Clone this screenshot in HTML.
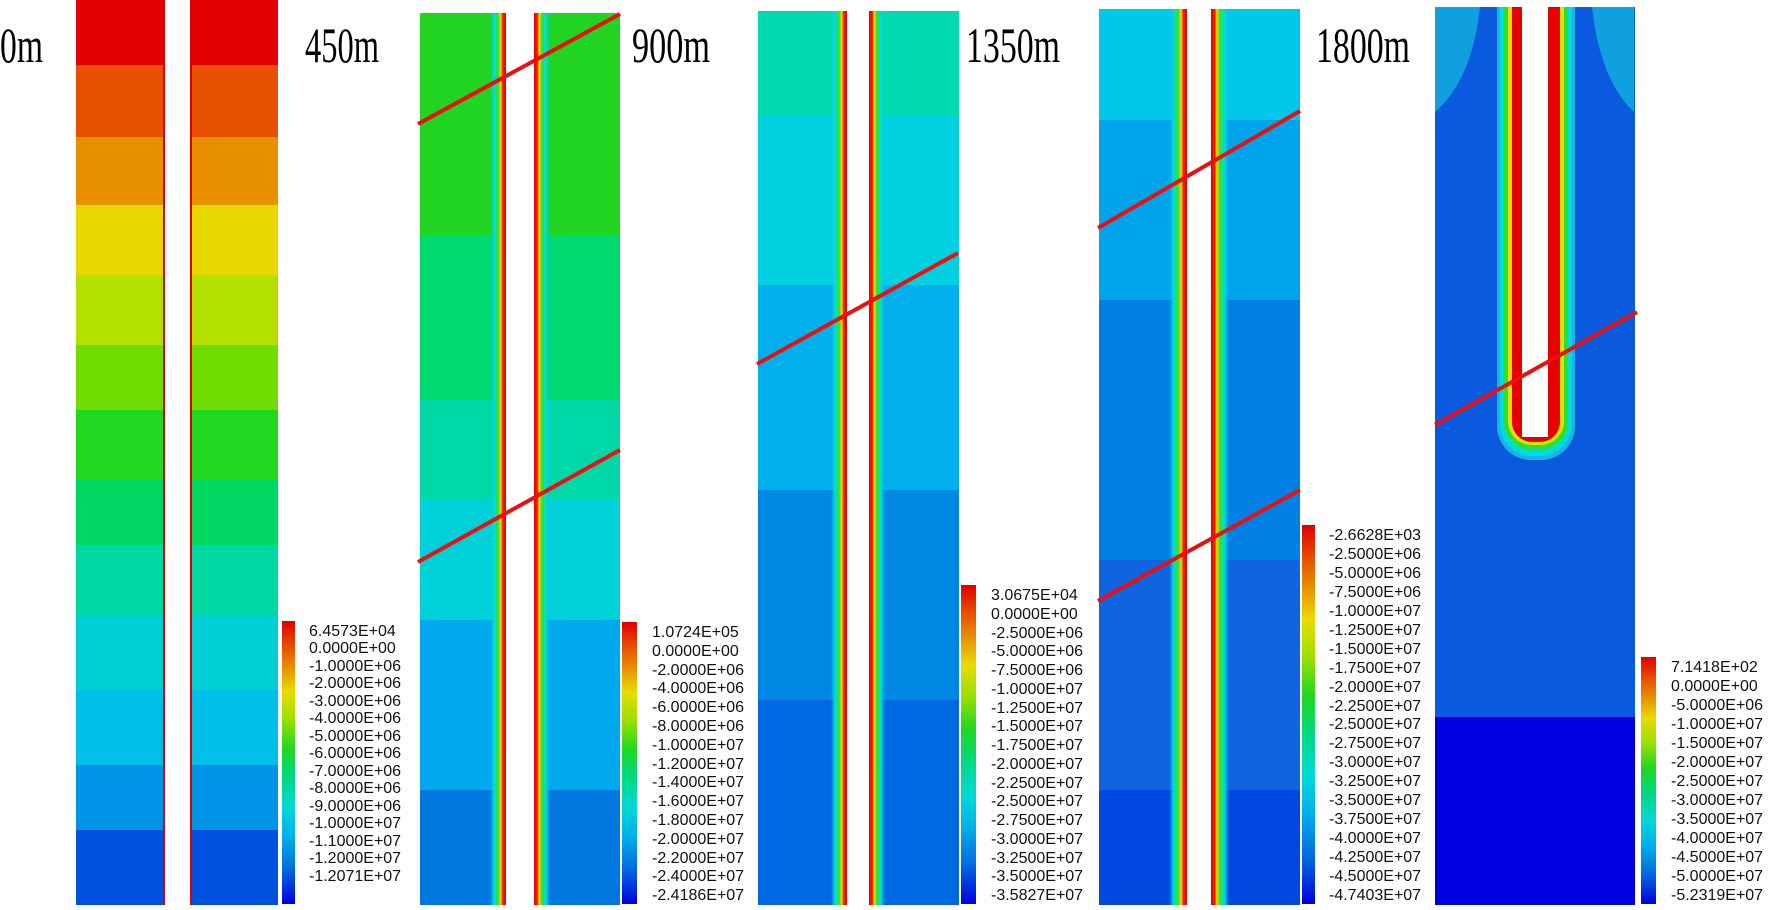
<!DOCTYPE html>
<html><head><meta charset="utf-8"><style>
html,body{margin:0;padding:0;background:#fff;}
svg{display:block}
.t{font-family:"Liberation Serif",serif;font-size:50px;fill:#000}
.c{font-family:"Liberation Sans",sans-serif;font-size:16px;fill:#111}
</style></head><body>
<svg width="1772" height="910" viewBox="0 0 1772 910" xmlns="http://www.w3.org/2000/svg">
<defs>
<linearGradient id="cb" x1="0" y1="0" x2="0" y2="1">
<stop offset="0" stop-color="#e00000"/><stop offset=".08" stop-color="#e64800"/>
<stop offset=".16" stop-color="#e88c00"/><stop offset=".25" stop-color="#e8dc00"/>
<stop offset=".35" stop-color="#98e000"/><stop offset=".45" stop-color="#20d820"/>
<stop offset=".55" stop-color="#00d880"/><stop offset=".66" stop-color="#00d8d8"/>
<stop offset=".76" stop-color="#00b0ea"/><stop offset=".87" stop-color="#0070e0"/>
<stop offset="1" stop-color="#0000e0"/></linearGradient>
<linearGradient id="sl" x1="0" y1="0" x2="1" y2="0">
<stop offset="0" stop-color="#00c8e8" stop-opacity="0"/><stop offset=".25" stop-color="#00dce0"/>
<stop offset=".5" stop-color="#30e030"/><stop offset=".68" stop-color="#e8e000"/>
<stop offset=".78" stop-color="#ff2000"/><stop offset="1" stop-color="#e00000"/></linearGradient>
<linearGradient id="sr" x1="1" y1="0" x2="0" y2="0">
<stop offset="0" stop-color="#00c8e8" stop-opacity="0"/><stop offset=".25" stop-color="#00dce0"/>
<stop offset=".5" stop-color="#30e030"/><stop offset=".68" stop-color="#e8e000"/>
<stop offset=".78" stop-color="#ff2000"/><stop offset="1" stop-color="#e00000"/></linearGradient>
</defs>

<!-- Titles -->
<text class="t" x="0" y="62" textLength="43" lengthAdjust="spacingAndGlyphs">0m</text>
<text class="t" x="305" y="62" textLength="74" lengthAdjust="spacingAndGlyphs">450m</text>
<text class="t" x="632" y="62" textLength="78" lengthAdjust="spacingAndGlyphs">900m</text>
<text class="t" x="966" y="62" textLength="94" lengthAdjust="spacingAndGlyphs">1350m</text>
<text class="t" x="1316" y="62" textLength="94" lengthAdjust="spacingAndGlyphs">1800m</text>

<!-- Panel 1 -->
<g>
<rect x="76" y="0" width="202" height="65" fill="#e40000"/>
<rect x="76" y="65" width="202" height="72" fill="#e65000"/>
<rect x="76" y="137" width="202" height="68" fill="#e89000"/>
<rect x="76" y="205" width="202" height="70" fill="#e8d800"/>
<rect x="76" y="275" width="202" height="70" fill="#b4e000"/>
<rect x="76" y="345" width="202" height="65" fill="#70dc00"/>
<rect x="76" y="410" width="202" height="70" fill="#20d820"/>
<rect x="76" y="480" width="202" height="65" fill="#00d864"/>
<rect x="76" y="545" width="202" height="70" fill="#00d8a4"/>
<rect x="76" y="615" width="202" height="75" fill="#00d0d4"/>
<rect x="76" y="690" width="202" height="75" fill="#00c0e8"/>
<rect x="76" y="765" width="202" height="65" fill="#0094e8"/>
<rect x="76" y="830" width="202" height="75" fill="#0050e0"/>
<rect x="165" y="0" width="25" height="910" fill="#fff"/>
<rect x="163" y="0" width="2" height="905" fill="#e00000"/>
<rect x="190" y="0" width="2" height="905" fill="#e00000"/>
</g>

<!-- Panel 2 -->
<g>
<rect x="420" y="13" width="200" height="222" fill="#22d422"/>
<rect x="420" y="235" width="200" height="165" fill="#00d870"/>
<rect x="420" y="400" width="200" height="100" fill="#00d8a8"/>
<rect x="420" y="500" width="200" height="120" fill="#00d0d8"/>
<rect x="420" y="620" width="200" height="170" fill="#00a8ec"/>
<rect x="420" y="790" width="200" height="115" fill="#0078e0"/>
<rect x="490" y="13" width="16" height="892" fill="url(#sl)"/>
<rect x="534" y="13" width="16" height="892" fill="url(#sr)"/>
<rect x="506" y="13" width="28" height="897" fill="#fff"/>
<line x1="418" y1="124" x2="620" y2="14" stroke="#e81010" stroke-width="4"/>
<line x1="418" y1="562" x2="620" y2="450" stroke="#e81010" stroke-width="4"/>
</g>

<!-- Panel 3 -->
<g>
<rect x="758" y="11" width="201" height="104" fill="#00dcb0"/>
<rect x="758" y="115" width="201" height="170" fill="#00d0e0"/>
<rect x="758" y="285" width="201" height="205" fill="#00b0ec"/>
<rect x="758" y="490" width="201" height="210" fill="#0088e4"/>
<rect x="758" y="700" width="201" height="205" fill="#0068e0"/>
<rect x="831" y="11" width="16" height="894" fill="url(#sl)"/>
<rect x="869" y="11" width="16" height="894" fill="url(#sr)"/>
<rect x="847" y="11" width="22" height="899" fill="#fff"/>
<line x1="757" y1="364" x2="958" y2="253" stroke="#e81010" stroke-width="4"/>
</g>

<!-- Panel 4 -->
<g>
<rect x="1099" y="9" width="201" height="111" fill="#00c8ea"/>
<rect x="1099" y="120" width="201" height="180" fill="#00a4ea"/>
<rect x="1099" y="300" width="201" height="260" fill="#0080e4"/>
<rect x="1099" y="560" width="201" height="230" fill="#1064e0"/>
<rect x="1099" y="790" width="201" height="115" fill="#0048e0"/>
<rect x="1169" y="9" width="18" height="896" fill="url(#sl)"/>
<rect x="1211" y="9" width="18" height="896" fill="url(#sr)"/>
<rect x="1187" y="9" width="24" height="901" fill="#fff"/>
<line x1="1098" y1="228" x2="1300" y2="111" stroke="#e81010" stroke-width="4"/>
<line x1="1098" y1="601" x2="1300" y2="490" stroke="#e81010" stroke-width="4"/>
</g>

<!-- Panel 5 -->
<g>
<rect x="1435" y="7" width="200" height="710" fill="#0a5ae0"/>
<rect x="1435" y="717" width="200" height="188" fill="#0000e0"/>
<path d="M1435 7 L1480 7 Q1472 80 1435 112 Z" fill="#10a0e0"/>
<path d="M1634 7 L1592 7 Q1600 80 1634 112 Z" fill="#10a0e0"/>
<rect x="1497" y="-30" width="78" height="490" rx="34" fill="#18b4e8"/>
<rect x="1500" y="-30" width="72" height="486" rx="32" fill="#00dcdc"/>
<rect x="1504" y="-30" width="64" height="480" rx="28" fill="#30e030"/>
<rect x="1508" y="-30" width="56" height="475" rx="24" fill="#e8e000"/>
<rect x="1512" y="-30" width="48" height="472" rx="20" fill="#e60000"/>
<rect x="1435" y="0" width="200" height="7" fill="#fff"/>
<rect x="1522" y="7" width="26" height="430" fill="#fff"/>
<line x1="1435" y1="425" x2="1637" y2="312" stroke="#e81010" stroke-width="4"/>
</g>

<!-- Colorbars -->
<rect x="282" y="621" width="13" height="283" fill="url(#cb)"/>
<rect x="622" y="622" width="15" height="282" fill="url(#cb)"/>
<rect x="961" y="585" width="15" height="319" fill="url(#cb)"/>
<rect x="1302" y="525" width="13" height="379" fill="url(#cb)"/>
<rect x="1641" y="657" width="15" height="247" fill="url(#cb)"/>

<g class="c">
<text x="309" y="636">6.4573E+04</text><text x="309" y="653">0.0000E+00</text>
<text x="309" y="671">-1.0000E+06</text><text x="309" y="688">-2.0000E+06</text>
<text x="309" y="706">-3.0000E+06</text><text x="309" y="723">-4.0000E+06</text>
<text x="309" y="741">-5.0000E+06</text><text x="309" y="758">-6.0000E+06</text>
<text x="309" y="776">-7.0000E+06</text><text x="309" y="793">-8.0000E+06</text>
<text x="309" y="811">-9.0000E+06</text><text x="309" y="828">-1.0000E+07</text>
<text x="309" y="846">-1.1000E+07</text><text x="309" y="863">-1.2000E+07</text>
<text x="309" y="881">-1.2071E+07</text>
</g>
<g class="c">
<text x="652" y="637">1.0724E+05</text><text x="652" y="656">0.0000E+00</text>
<text x="652" y="675">-2.0000E+06</text><text x="652" y="693">-4.0000E+06</text>
<text x="652" y="712">-6.0000E+06</text><text x="652" y="731">-8.0000E+06</text>
<text x="652" y="750">-1.0000E+07</text><text x="652" y="769">-1.2000E+07</text>
<text x="652" y="787">-1.4000E+07</text><text x="652" y="806">-1.6000E+07</text>
<text x="652" y="825">-1.8000E+07</text><text x="652" y="844">-2.0000E+07</text>
<text x="652" y="863">-2.2000E+07</text><text x="652" y="881">-2.4000E+07</text>
<text x="652" y="900">-2.4186E+07</text>
</g>
<g class="c">
<text x="991" y="600">3.0675E+04</text><text x="991" y="619">0.0000E+00</text>
<text x="991" y="638">-2.5000E+06</text><text x="991" y="656">-5.0000E+06</text>
<text x="991" y="675">-7.5000E+06</text><text x="991" y="694">-1.0000E+07</text>
<text x="991" y="713">-1.2500E+07</text><text x="991" y="731">-1.5000E+07</text>
<text x="991" y="750">-1.7500E+07</text><text x="991" y="769">-2.0000E+07</text>
<text x="991" y="788">-2.2500E+07</text><text x="991" y="806">-2.5000E+07</text>
<text x="991" y="825">-2.7500E+07</text><text x="991" y="844">-3.0000E+07</text>
<text x="991" y="863">-3.2500E+07</text><text x="991" y="881">-3.5000E+07</text>
<text x="991" y="900">-3.5827E+07</text>
</g>
<g class="c">
<text x="1329" y="540">-2.6628E+03</text><text x="1329" y="559">-2.5000E+06</text>
<text x="1329" y="578">-5.0000E+06</text><text x="1329" y="597">-7.5000E+06</text>
<text x="1329" y="616">-1.0000E+07</text><text x="1329" y="635">-1.2500E+07</text>
<text x="1329" y="654">-1.5000E+07</text><text x="1329" y="673">-1.7500E+07</text>
<text x="1329" y="692">-2.0000E+07</text><text x="1329" y="711">-2.2500E+07</text>
<text x="1329" y="729">-2.5000E+07</text><text x="1329" y="748">-2.7500E+07</text>
<text x="1329" y="767">-3.0000E+07</text><text x="1329" y="786">-3.2500E+07</text>
<text x="1329" y="805">-3.5000E+07</text><text x="1329" y="824">-3.7500E+07</text>
<text x="1329" y="843">-4.0000E+07</text><text x="1329" y="862">-4.2500E+07</text>
<text x="1329" y="881">-4.5000E+07</text><text x="1329" y="900">-4.7403E+07</text>
</g>
<g class="c">
<text x="1671" y="672">7.1418E+02</text><text x="1671" y="691">0.0000E+00</text>
<text x="1671" y="710">-5.0000E+06</text><text x="1671" y="729">-1.0000E+07</text>
<text x="1671" y="748">-1.5000E+07</text><text x="1671" y="767">-2.0000E+07</text>
<text x="1671" y="786">-2.5000E+07</text><text x="1671" y="805">-3.0000E+07</text>
<text x="1671" y="824">-3.5000E+07</text><text x="1671" y="843">-4.0000E+07</text>
<text x="1671" y="862">-4.5000E+07</text><text x="1671" y="881">-5.0000E+07</text>
<text x="1671" y="900">-5.2319E+07</text>
</g>
</svg>
</body></html>
